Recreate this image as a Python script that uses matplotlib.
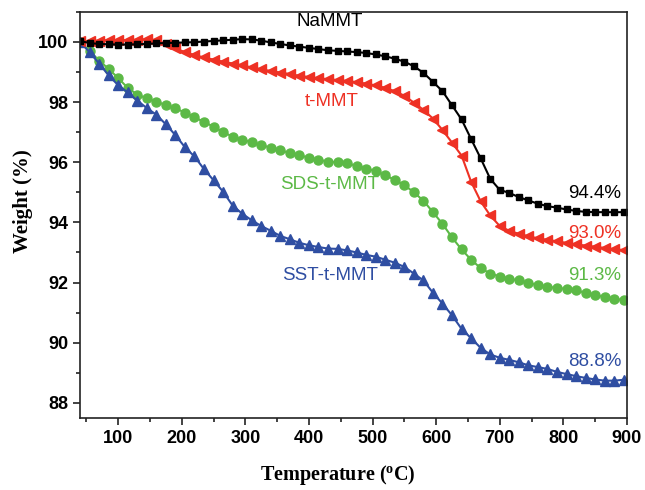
import numpy as np
import matplotlib.pyplot as plt
from matplotlib.ticker import MultipleLocator

plt.rcParams['font.family'] = ['Liberation Sans', 'DejaVu Sans']

temp = np.arange(40, 896, 15)

na_mmt = [100.03, 99.96, 99.93, 99.92, 99.91, 99.91, 99.92, 99.93, 99.95, 99.96,
          99.97, 99.98, 99.99, 100.01, 100.03, 100.05, 100.07, 100.09, 100.08, 100.04,
          99.98, 99.93, 99.88, 99.84, 99.80, 99.76, 99.72, 99.70, 99.68, 99.66,
          99.63, 99.58, 99.52, 99.44, 99.34, 99.19, 98.97, 98.67, 98.36, 97.89,
          97.42, 96.77, 96.13, 95.45, 95.08, 94.98, 94.84, 94.73, 94.62, 94.54,
          94.49, 94.43, 94.38, 94.35, 94.34, 94.34, 94.34, 94.34]

t_mmt = [100.02, 100.03, 100.04, 100.05, 100.05, 100.06, 100.07, 100.08, 100.06, 99.93,
         99.78, 99.66, 99.56, 99.48, 99.41, 99.34, 99.28, 99.22, 99.15, 99.09,
         99.03, 98.98, 98.93, 98.87, 98.83, 98.79, 98.76, 98.73, 98.70, 98.66,
         98.61, 98.55, 98.47, 98.36, 98.21, 97.98, 97.74, 97.45, 97.07, 96.65,
         96.22, 95.35, 94.70, 94.23, 93.88, 93.72, 93.62, 93.54, 93.47, 93.42,
         93.37, 93.32, 93.27, 93.23, 93.19, 93.15, 93.11, 93.08]

sds_t_mmt = [100.00, 99.70, 99.38, 99.10, 98.80, 98.47, 98.25, 98.12, 98.01, 97.90,
             97.79, 97.65, 97.49, 97.34, 97.18, 97.00, 96.85, 96.75, 96.66, 96.57,
             96.48, 96.39, 96.31, 96.23, 96.15, 96.08, 96.02, 96.00, 95.96, 95.88,
             95.79, 95.70, 95.57, 95.41, 95.24, 95.00, 94.72, 94.34, 93.95, 93.50,
             93.10, 92.76, 92.48, 92.30, 92.20, 92.13, 92.07, 91.99, 91.91, 91.86,
             91.82, 91.79, 91.74, 91.66, 91.58, 91.52, 91.47, 91.41]

sst_t_mmt = [100.00, 99.66, 99.28, 98.89, 98.56, 98.32, 98.05, 97.80, 97.58, 97.26,
             96.90, 96.50, 96.19, 95.77, 95.40, 95.02, 94.56, 94.29, 94.07, 93.88,
             93.72, 93.55, 93.44, 93.32, 93.24, 93.18, 93.13, 93.12, 93.07, 93.00,
             92.92, 92.86, 92.76, 92.66, 92.52, 92.30, 92.07, 91.66, 91.30, 90.91,
             90.46, 90.15, 89.83, 89.61, 89.50, 89.43, 89.35, 89.25, 89.19, 89.13,
             89.03, 88.96, 88.89, 88.83, 88.78, 88.74, 88.74, 88.77]

black = '#000000'
red = '#ee3124'
green = '#5cb946'
blue = '#2f4ea2'

fig = plt.figure(figsize=(6.45, 4.9), dpi=100)
ax = fig.add_axes([0.124, 0.147, 0.848, 0.829])

ax.plot(temp, sds_t_mmt, '-o', color=green, lw=1.5, ms=6.5, mec=green)
ax.plot(temp, sst_t_mmt, '-^', color=blue, lw=1.5, ms=7, mec=blue)
ax.plot(temp, t_mmt, '-<', color=red, lw=1.5, ms=7, mec=red)
ax.plot(temp, na_mmt, '-s', color=black, lw=1.5, ms=5, mec=black)

fs = 13.5
ax.text(433, 100.66, 'NaMMT', color=black, fontsize=fs, ha='center', va='center')
ax.text(436, 98.03, 't-MMT', color=red, fontsize=fs, ha='center', va='center')
ax.text(432, 95.25, 'SDS-t-MMT', color=green, fontsize=fs, ha='center', va='center')
ax.text(433, 92.24, 'SST-t-MMT', color=blue, fontsize=fs, ha='center', va='center')
ax.text(891, 94.95, '94.4%', color=black, fontsize=fs, ha='right', va='center')
ax.text(891, 93.63, '93.0%', color=red, fontsize=fs, ha='right', va='center')
ax.text(891, 92.24, '91.3%', color=green, fontsize=fs, ha='right', va='center')
ax.text(891, 89.39, '88.8%', color=blue, fontsize=fs, ha='right', va='center')

ax.set_xlim(40, 900)
ax.set_ylim(87.5, 101)
ax.xaxis.set_major_locator(MultipleLocator(100))
ax.xaxis.set_minor_locator(MultipleLocator(50))
ax.yaxis.set_major_locator(MultipleLocator(2))
ax.yaxis.set_minor_locator(MultipleLocator(1))
ax.tick_params(which='both', direction='out', top=False, right=False, width=1.2,
               color='#222222')
ax.tick_params(which='major', length=5, labelsize=13)
ax.tick_params(which='minor', length=3)
for lab in ax.get_xticklabels() + ax.get_yticklabels():
    lab.set_fontweight('bold')
for sp in ax.spines.values():
    sp.set_linewidth(1.2)
    sp.set_color('#222222')

ax.set_xlabel('Temperature ($\\mathregular{^o}$C)', fontsize=14.5, fontweight='bold',
              family='Liberation Serif')
ax.set_ylabel('Weight (%)', fontsize=15, fontweight='bold',
              family='Liberation Serif')
ax.xaxis.set_label_coords(0.472, -0.112)
ax.yaxis.set_label_coords(-0.086, 0.534)

fig.savefig('out.png', dpi=100)
